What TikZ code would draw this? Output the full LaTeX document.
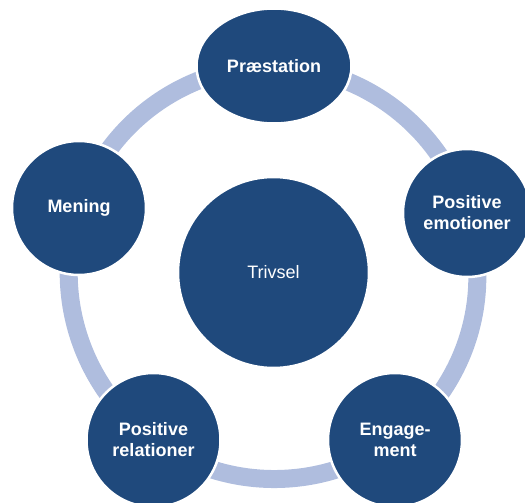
\documentclass[tikz,border=0pt]{standalone}
\usepackage{fontspec}
\setmainfont{Liberation Sans}
\usetikzlibrary{shapes.geometric,backgrounds}
\definecolor{nodeblue}{RGB}{31,73,124}
\definecolor{ringblue}{RGB}{175,189,222}
\begin{document}
\begin{tikzpicture}[x=1pt, y=-1pt]
    \tikzset{outer node/.style={circle, fill=nodeblue, draw=white, line width=2.5pt, text=white,
               font=\fontsize{18}{21}\selectfont\bfseries, align=center, inner sep=0pt},
             centre node/.style={circle, fill=nodeblue, draw=white, line width=2.5pt, text=white,
               font=\fontsize{18}{21}\selectfont, minimum size=191pt, inner sep=0pt},
             ring/.style={ringblue, line width=18pt}}
    \useasboundingbox (0,0) rectangle (525,503);
    \clip (0,0) rectangle (525,503);

    % Centre
    \node[centre node] (trivsel) at (273.5,272.5) {Trivsel};

    % Outer nodes
    \node[outer node, ellipse, minimum width=155pt, minimum height=115pt] (prae) at (274,66) {Præstation};
    \node[outer node, minimum size=128pt] (emo) at (467,213) {Positive\\emotioner};
    \node[outer node, minimum size=134pt] (eng) at (395,440) {Engage-\\ment};
    \node[outer node, minimum size=134pt] (rel) at (153.5,440) {Positive\\relationer};
    \node[outer node, minimum size=134pt] (men) at (79,208) {Mening};

    % Ring between outer nodes
    \begin{scope}[on background layer]
        \draw[ring] (prae.center) to[bend left=36, looseness=0.94] (emo.center);
        \draw[ring] (emo.center) to[bend left=36, looseness=0.94] (eng.center);
        \draw[ring] (eng.center) to[bend left=36, looseness=0.94] (rel.center);
        \draw[ring] (rel.center) to[bend left=36, looseness=0.94] (men.center);
        \draw[ring] (men.center) to[bend left=36, looseness=0.94] (prae.center);
    \end{scope}
\end{tikzpicture}
\end{document}
